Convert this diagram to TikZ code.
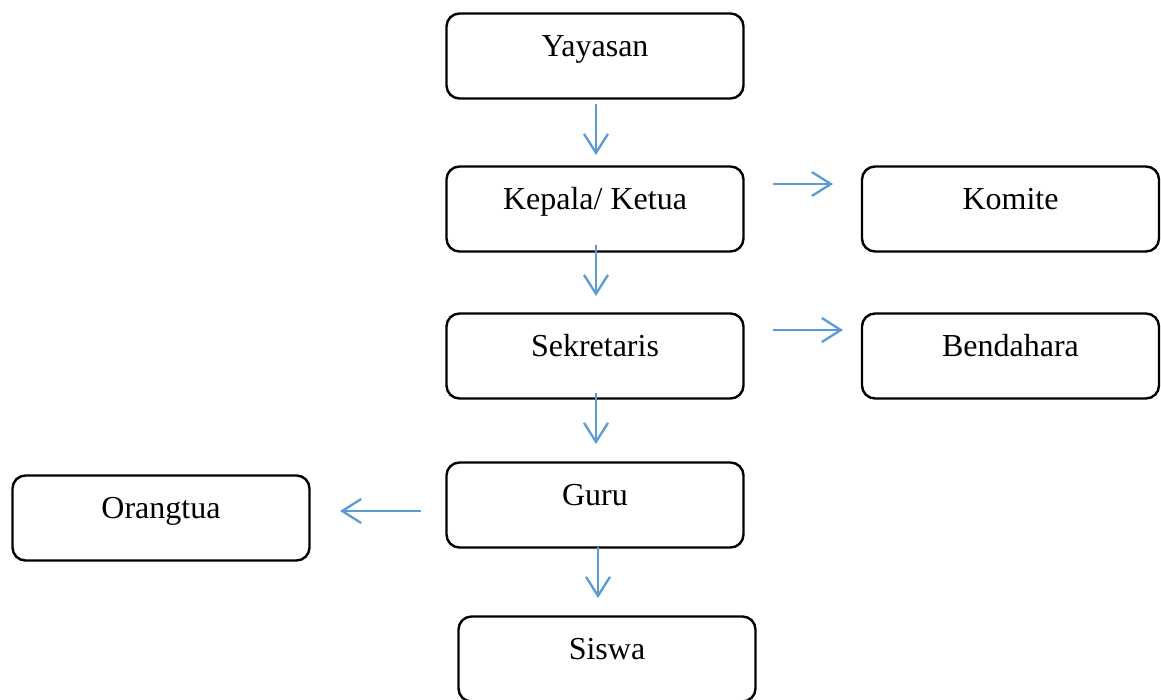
\documentclass[tikz,border=0pt]{standalone}
\usepackage{fontspec}
\setmainfont{Liberation Serif}
\usetikzlibrary{arrows.meta,calc}
\definecolor{arrowblue}{HTML}{5B9BD5}
\tikzset{
  box/.style={draw=black, line width=2.4pt, rounded corners=13pt,
    minimum width=297pt, minimum height=85pt, inner sep=0pt,
    text height=12pt, text depth=12pt, font=\fontsize{32}{36}\selectfont},
  conn/.style={draw=arrowblue, line width=2.3pt,
    -{Straight Barb[length=19pt,width=24pt,line width=2.3pt]}}
}
\begin{document}
\begin{tikzpicture}[x=1pt,y=-1pt]
\useasboundingbox (0,0) rectangle (1161,699);
\begin{scope}
\clip (0,0) rectangle (1161,699);
\node[box] (yayasan) at (595,56) {Yayasan};
\node[box] (kepala) at (595,209) {Kepala/ Ketua};
\node[box] (komite) at (1010.5,209) {Komite};
\node[box] (sekretaris) at (595,356) {Sekretaris};
\node[box] (bendahara) at (1010.5,356) {Bendahara};
\node[box] (guru) at (595,505) {Guru};
\node[box] (orangtua) at (161,518) {Orangtua};
\node[box] (siswa) at (607,659) {Siswa};
\end{scope}
\coordinate (a1s) at (596,104); \coordinate (a1e) at (596,155);
\coordinate (a2s) at (596,245); \coordinate (a2e) at (596,296);
\coordinate (a3s) at (596,393); \coordinate (a3e) at (596,444);
\coordinate (a4s) at (598,547); \coordinate (a4e) at (598,598);
\coordinate (b1s) at (773,184); \coordinate (b1e) at (833,184);
\coordinate (b2s) at (773,330); \coordinate (b2e) at (843,330);
\coordinate (c1s) at (421,511); \coordinate (c1e) at (340,511);
\draw[conn] (a1s) -- (a1e);
\draw[conn] (a2s) -- (a2e);
\draw[conn] (a3s) -- (a3e);
\draw[conn] (a4s) -- (a4e);
\draw[conn] (b1s) -- (b1e);
\draw[conn] (b2s) -- (b2e);
\draw[conn] (c1s) -- (c1e);
\end{tikzpicture}
\end{document}
